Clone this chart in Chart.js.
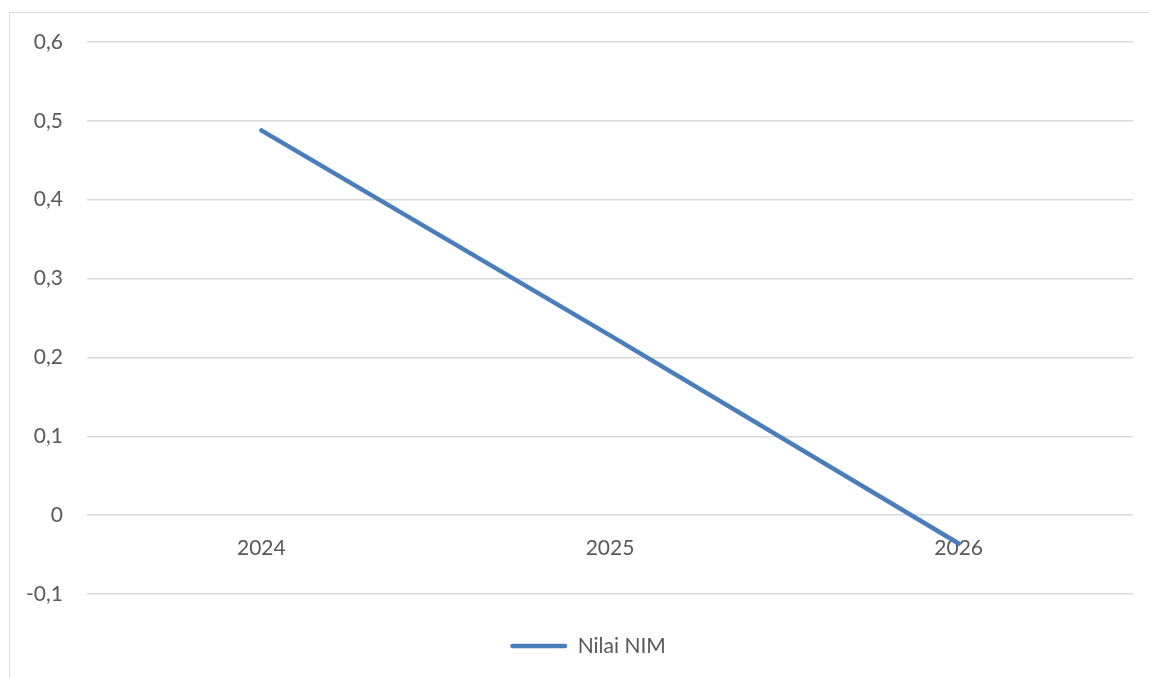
<!DOCTYPE html>
<html>
<head>
<meta charset="utf-8">
<script src="https://cdn.jsdelivr.net/npm/chart.js@4/dist/chart.umd.min.js"></script>
<style>
  html, body { margin: 0; padding: 0; background: #ffffff; overflow: hidden; }
  #frame {
    position: absolute; left: 9px; top: 12px; width: 1300px; height: 800px;
    border-left: 1.5px solid #d9d9d9; border-top: 1.5px solid #d9d9d9;
  }
  #wrap { position: absolute; left: 0; top: 0; width: 1149px; height: 678px; }
</style>
</head>
<body>
<div id="frame"></div>
<div id="wrap"><canvas id="chart"></canvas></div>
<script>
// Net interest margin by year
const years = ['2024', '2025', '2026'];
const nimValues = [0.488, 0.228, -0.036];
const seriesName = 'Nilai NIM';

const yMin = -0.1;
const yMax = 0.6;
const yStep = 0.1;

const textColor = '#595959';
const gridColor = '#d9d9d9';
const lineColor = '#4a7ebb';
const fontFamily = 'Lato, "Open Sans", sans-serif';

// decimal comma, as in the Indonesian locale
const fmt = v => String(Number(v.toFixed(1))).replace('.', ',');

new Chart(document.getElementById('chart'), {
  type: 'line',
  data: {
    labels: years,
    datasets: [{
      label: seriesName,
      data: nimValues,
      borderColor: lineColor,
      backgroundColor: lineColor,
      borderWidth: 4.5,
      borderCapStyle: 'round',
      pointRadius: 0,
      pointHoverRadius: 0,
      tension: 0
    }]
  },
  options: {
    responsive: true,
    maintainAspectRatio: false,
    animation: false,
    layout: { padding: { top: 42, right: -5, left: 22, bottom: 11.5 } },
    plugins: {
      tooltip: { enabled: false },
      legend: {
        position: 'bottom',
        // empty title used only as spacing above the legend row
        title: { display: true, text: '', font: { size: 1, lineHeight: 1 }, padding: { top: 30.5, bottom: 0 } },
        labels: {
          color: textColor,
          font: { family: fontFamily, size: 21 },
          boxWidth: 57,
          boxHeight: 4.5,
          padding: 10,
          useBorderRadius: true,
          generateLabels: chart => chart.data.datasets.map((ds, i) => ({
            text: ds.label,
            fillStyle: ds.borderColor,
            strokeStyle: ds.borderColor,
            lineWidth: 0,
            borderRadius: 2.25,
            fontColor: textColor,
            datasetIndex: i
          }))
        }
      }
    },
    scales: {
      x: {
        type: 'category',
        offset: true,
        position: { y: 0 },
        grid: { display: false, drawTicks: false },
        border: { display: false },
        ticks: {
          color: textColor,
          font: { family: fontFamily, size: 21 },
          padding: 20,
          maxRotation: 0
        }
      },
      y: {
        min: yMin,
        max: yMax,
        grid: { color: gridColor, lineWidth: 1.5, drawTicks: false },
        border: { display: false },
        afterFit: s => { s.width = 65; },
        ticks: {
          stepSize: yStep,
          color: textColor,
          font: { family: fontFamily, size: 21 },
          padding: 24,
          callback: v => fmt(v)
        }
      },
      // blank right-hand margin of the plot
      yRight: {
        position: 'right',
        min: yMin,
        max: yMax,
        grid: { display: false, drawTicks: false },
        border: { display: false },
        ticks: { display: false },
        afterFit: s => { s.width = 21; }
      }
    }
  }
});
</script>
</body>
</html>
